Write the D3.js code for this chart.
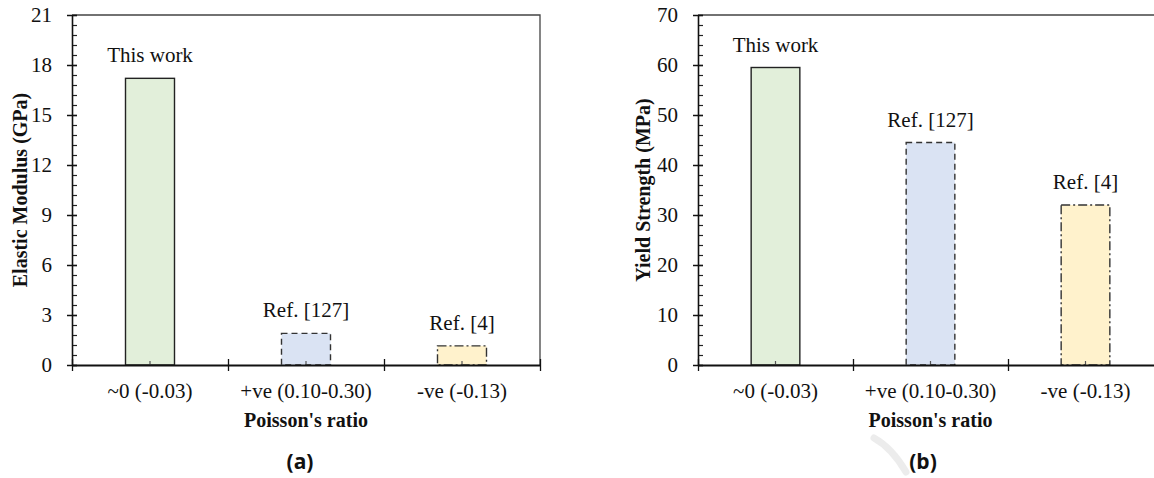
<!DOCTYPE html>
<html lang="en">
<head>
  <meta charset="UTF-8">
  <title>Poisson's ratio comparison</title>
  <script src="https://d3js.org/d3.v7.min.js"></script>
  <style>
    body { margin: 0; background: #fff; }
    svg { display: block; }
    text { font-family: "Liberation Serif", "Times New Roman", serif; fill: #111; }
    .bar-label { font-size: 21px; text-anchor: middle; }
    .axis-title { font-size: 20px; font-weight: bold; text-anchor: middle; }
    .panel-tag { font-family: "Open Sans", "Noto Sans", sans-serif; font-size: 21px; font-weight: bold; text-anchor: middle; }
  </style>
</head>
<body>
<div id="chart"></div>
<script>
// data
const categories = ["~0 (-0.03)", "+ve (0.10-0.30)", "-ve (-0.13)"];
const barLabels = ["This work", "Ref. [127]", "Ref. [4]"];
const modulusValues = [17.2, 1.9, 1.15];
const strengthValues = [59.5, 44.5, 32.0];
const modulusTicks = [0, 3, 6, 9, 12, 15, 18, 21];
const strengthTicks = [0, 10, 20, 30, 40, 50, 60, 70];

const fills = ["#e2efda", "#dae3f3", "#fff2cc"];
const strokes = ["#222", "#333", "#333"];
const dashes = [null, "6,4", "9,3,2,3"];
const serif = '"Liberation Serif", "Times New Roman", serif';

const svg = d3.select("#chart").append("svg")
  .attr("width", 1154)
  .attr("height", 478);

const panels = [
  { left: 72, right: 540, values: modulusValues, ticks: modulusTicks,
    title: "Elastic Modulus (GPa)", titleX: 20, tag: "(a)", tagX: 300 },
  { left: 698, right: 1163, values: strengthValues, ticks: strengthTicks,
    title: "Yield Strength (MPa)", titleX: 643, tag: "(b)", tagX: 923 }
];

const plotTop = 15, plotBottom = 365;

panels.forEach(p => {
  const width = p.right - p.left, height = plotBottom - plotTop;
  const g = svg.append("g").attr("transform", `translate(${p.left},${plotTop})`);

  const pad = 1 - 49 / 156;
  const x = d3.scaleBand().domain(categories).range([0, width])
    .paddingInner(pad).paddingOuter(pad / 2);
  const yMax = p.ticks[p.ticks.length - 1];
  const y = d3.scaleLinear().domain([0, yMax]).range([height, 0]);

  // frame: top + right border
  g.append("path")
    .attr("d", `M0,0H${width}V${height}`)
    .attr("fill", "none")
    .attr("stroke", "#444")
    .attr("stroke-width", 1.3);

  // bars
  g.selectAll(".bar")
    .data(p.values)
    .enter().append("rect")
    .attr("class", "bar")
    .attr("x", (d, i) => x(categories[i]))
    .attr("y", d => y(d))
    .attr("width", x.bandwidth())
    .attr("height", d => height - y(d))
    .attr("fill", (d, i) => fills[i])
    .attr("stroke", (d, i) => strokes[i])
    .attr("stroke-width", 1.4)
    .attr("stroke-dasharray", (d, i) => dashes[i]);

  // bar labels
  g.selectAll(".bar-label")
    .data(p.values)
    .enter().append("text")
    .attr("class", "bar-label")
    .attr("x", (d, i) => x(categories[i]) + x.bandwidth() / 2)
    .attr("y", d => y(d) - 16)
    .text((d, i) => barLabels[i]);

  // y axis: major ticks crossing, minor ticks inside
  const major = p.ticks[1] - p.ticks[0];
  const minorTicks = d3.range(0, (p.ticks.length - 1) * 5 + 1).map(i => i * major / 5);
  const yMinor = g.append("g")
    .call(d3.axisRight(y).tickValues(minorTicks).tickSize(5).tickFormat(""));
  yMinor.select(".domain").remove();
  yMinor.selectAll("line").attr("stroke", "#222").attr("stroke-width", 1.2);

  const yAxis = g.append("g")
    .attr("font-family", serif)
    .attr("font-size", 21)
    .call(d3.axisLeft(y).tickValues(p.ticks).tickSize(5).tickPadding(15).tickSizeOuter(0));
  yAxis.attr("font-family", serif).attr("font-size", 21);
  yAxis.selectAll(".tick line").attr("x1", 5).attr("stroke", "#111").attr("stroke-width", 1.5);
  yAxis.select(".domain").attr("stroke", "#111").attr("stroke-width", 1.6);
  yAxis.selectAll(".tick text").attr("fill", "#111");

  // x axis: category labels
  const xAxis = g.append("g")
    .attr("transform", `translate(0,${height})`)
    .call(d3.axisBottom(x).tickSize(0).tickPadding(18));
  xAxis.attr("font-family", serif).attr("font-size", 21);
  xAxis.select(".domain").remove();
  xAxis.selectAll(".tick text").attr("fill", "#111");

  // centre ticks pointing inward
  const xCenter = g.append("g")
    .attr("transform", `translate(0,${height})`)
    .call(d3.axisTop(x).tickSize(4).tickFormat("").tickSizeOuter(0));
  xCenter.select(".domain").remove();
  xCenter.selectAll("line").attr("stroke", "#555").attr("stroke-width", 1.2);

  // category boundary ticks crossing the axis
  const xb = d3.scaleLinear().domain([0, categories.length]).range([0, width]);
  const xBound = g.append("g")
    .attr("transform", `translate(0,${height})`)
    .call(d3.axisBottom(xb).tickValues(d3.range(0, categories.length + 1))
      .tickSize(6).tickFormat("").tickSizeOuter(0));
  xBound.selectAll(".tick line").attr("y1", -6).attr("stroke", "#111").attr("stroke-width", 1.3);
  xBound.select(".domain").attr("stroke", "#111").attr("stroke-width", 2.2);

  // titles
  svg.append("text")
    .attr("class", "axis-title")
    .attr("transform", `translate(${p.titleX + 7},${plotTop + height / 2}) rotate(-90)`)
    .text(p.title);

  svg.append("text")
    .attr("class", "axis-title")
    .attr("x", p.left + width / 2)
    .attr("y", 427)
    .text("Poisson's ratio");

  svg.append("text")
    .attr("class", "panel-tag")
    .attr("x", p.tagX)
    .attr("y", 469)
    .text(p.tag);
});

// faint watermark mark near (b)
svg.append("path")
  .attr("d", "M874,438 Q892,448 906,472")
  .attr("fill", "none")
  .attr("stroke", "#ececec")
  .attr("stroke-width", 7)
  .attr("stroke-linecap", "round")
  .lower();
</script>
</body>
</html>
